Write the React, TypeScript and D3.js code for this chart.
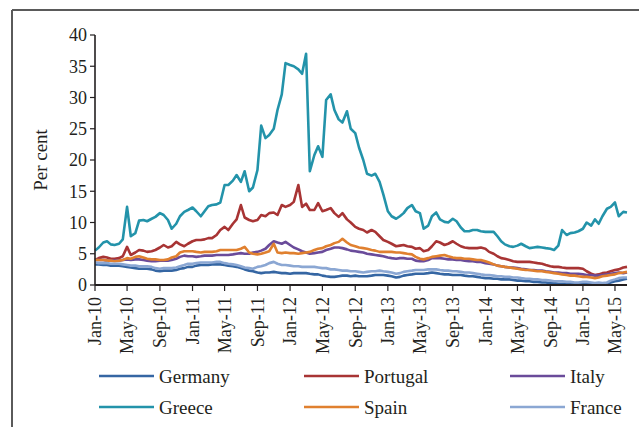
import React from 'react';
import * as d3 from 'd3';

// semi-monthly observations, 1st and 15th of each month, Jan 2010 - mid Jun 2015
const startDate = new Date(2010, 0, 1);
const endDate = new Date(2015, 5, 15);

const germany = [
  3.3, 3.3, 3.2, 3.2, 3.1, 3.1, 3.1, 3.0, 2.9, 2.8, 2.7, 2.6, 2.6, 2.6, 2.5, 2.3, 2.2, 2.3, 2.3, 2.3,
  2.4, 2.6, 2.7, 2.9, 2.9, 3.1, 3.2, 3.2, 3.2, 3.3, 3.3, 3.3, 3.2, 3.1, 3.0, 2.9, 2.7, 2.5, 2.3, 2.2,
  2.0, 1.9, 2.0, 2.0, 2.1, 2.0, 1.9, 1.9, 1.8, 1.9, 1.9, 1.9, 1.9, 1.8, 1.7, 1.7, 1.5, 1.4, 1.3, 1.3,
  1.4, 1.5, 1.5, 1.4, 1.5, 1.4, 1.4, 1.4, 1.5, 1.6, 1.6, 1.6, 1.5, 1.4, 1.2, 1.3, 1.5, 1.6, 1.7, 1.8,
  1.8, 1.8, 1.9, 2.0, 1.9, 1.8, 1.7, 1.7, 1.6, 1.6, 1.6, 1.5, 1.4, 1.4, 1.3, 1.2, 1.1, 1.1, 1.0, 1.0,
  0.9, 0.9, 0.9, 0.8, 0.7, 0.7, 0.6, 0.6, 0.5, 0.5, 0.4, 0.4, 0.3, 0.3, 0.2, 0.2, 0.2, 0.1, 0.1, 0.1,
  0.1, 0.2, 0.1, 0.1, 0.1, 0.1, 0.2, 0.4, 0.6, 0.7, 0.9, 1.0,
];

const portugal = [
  4.0, 4.3, 4.5, 4.4, 4.2, 4.2, 4.3, 4.6, 6.1, 4.8, 5.2, 5.6, 5.5, 5.3, 5.4, 5.6, 6.0, 6.4, 6.0, 6.2,
  6.9, 6.5, 6.2, 6.6, 7.0, 7.2, 7.2, 7.3, 7.5, 7.5, 8.0, 8.8, 9.3, 8.8, 9.8, 10.5, 12.8, 10.8, 10.4, 10.2,
  10.4, 11.2, 11.0, 11.5, 11.6, 11.2, 12.8, 12.5, 12.8, 13.3, 16.0, 12.5, 13.0, 12.0, 12.0, 13.1, 11.8, 12.0, 12.3, 11.5,
  10.9, 11.5, 10.5, 10.0, 9.3, 9.0, 8.8, 8.4, 8.8, 8.5, 7.8, 7.2, 6.9, 6.6, 6.2, 6.3, 6.4, 6.2, 6.1, 5.8,
  5.9, 5.4, 5.6, 6.2, 7.0, 6.8, 6.4, 6.6, 7.0, 6.6, 6.2, 6.0, 5.9, 5.9, 5.9, 6.0, 5.8, 5.3, 5.0, 4.6,
  4.3, 4.2, 4.0, 3.8, 3.7, 3.7, 3.7, 3.7, 3.6, 3.5, 3.4, 3.2, 3.0, 2.9, 2.9, 2.8, 2.7, 2.7, 2.7, 2.7,
  2.6, 2.2, 1.8, 1.6, 1.7, 1.9, 2.0, 2.2, 2.4, 2.5, 2.8, 2.9,
];

const italy = [
  4.0, 4.0, 4.0, 3.9, 3.9, 3.9, 3.9, 4.0, 4.1, 4.0, 4.1, 4.1, 4.0, 3.9, 3.8, 3.8, 3.9, 3.9, 3.9, 4.0,
  4.2, 4.5, 4.7, 4.6, 4.6, 4.5, 4.6, 4.7, 4.7, 4.7, 4.8, 4.8, 4.8, 4.8, 4.9, 5.0, 5.1, 5.0, 5.0, 5.2,
  5.3, 5.5, 5.8, 6.4, 7.0, 6.8, 6.6, 6.9, 6.4, 6.0, 5.7, 5.4, 5.2, 5.0, 5.1, 5.2, 5.3, 5.6, 5.8, 6.0,
  6.0, 5.9, 5.7, 5.5, 5.4, 5.3, 5.2, 5.0, 4.9, 4.8, 4.7, 4.6, 4.4, 4.3, 4.2, 4.3, 4.3, 4.2, 4.2, 3.9,
  3.8, 3.8, 4.0, 4.3, 4.3, 4.3, 4.2, 4.1, 4.1, 4.0, 4.0, 3.9, 3.8, 3.8, 3.7, 3.7, 3.5, 3.4, 3.3, 3.1,
  3.0, 2.9, 2.8, 2.8, 2.7, 2.6, 2.5, 2.4, 2.4, 2.3, 2.3, 2.2, 2.1, 2.0, 2.0, 1.9, 1.9, 1.8, 1.8, 1.8,
  1.7, 1.6, 1.6, 1.5, 1.5, 1.6, 1.7, 1.8, 1.9, 2.0, 1.9, 2.0,
];

const greece = [
  5.5, 6.0, 6.8, 7.0, 6.5, 6.4, 6.6, 7.3, 12.5, 7.8, 8.3, 10.3, 10.4, 10.2, 10.6, 10.9, 11.5, 11.2, 10.4, 9.0,
  9.8, 11.0, 11.7, 12.0, 12.4, 11.8, 11.0, 11.8, 12.6, 12.8, 12.9, 13.2, 16.0, 16.0, 16.7, 17.6, 16.5, 18.2, 15.0, 15.6,
  18.4, 25.5, 23.5, 24.0, 25.0, 28.0, 30.5, 35.5, 35.2, 35.0, 34.5, 33.8, 37.0, 18.2, 20.8, 22.2, 20.5, 29.6, 30.5, 28.0,
  26.5, 26.0, 27.8, 25.0, 24.3, 22.0, 20.0, 17.8, 17.5, 17.8, 16.5, 14.5, 11.8, 11.0, 10.6, 11.0, 11.5, 12.3, 12.8, 11.8,
  11.5, 9.0, 9.5, 11.0, 11.6, 10.5, 10.1, 10.0, 10.6, 10.2, 9.2, 8.6, 8.6, 8.8, 8.8, 8.6, 8.5, 8.5, 8.5, 7.8,
  7.0, 6.5, 6.2, 6.1, 6.3, 6.6, 6.2, 5.9, 6.0, 6.1, 6.0, 5.9, 5.8, 5.6, 6.3, 8.8, 8.0, 8.3, 8.4, 8.6,
  9.0, 10.0, 9.5, 10.5, 9.8, 11.0, 12.2, 12.5, 13.2, 11.0, 11.7, 11.6,
];

const spain = [
  4.0, 4.0, 4.0, 3.9, 3.9, 3.8, 3.9, 4.0, 4.3, 4.2, 4.5, 4.6, 4.4, 4.2, 4.1, 4.1, 4.0, 4.0, 4.1, 4.4,
  4.6, 5.2, 5.4, 5.4, 5.4, 5.3, 5.2, 5.3, 5.3, 5.3, 5.4, 5.6, 5.6, 5.6, 5.6, 5.6, 5.8, 6.1, 5.2, 5.0,
  4.9, 5.0, 5.2, 5.4, 6.6, 5.2, 5.1, 5.2, 5.1, 5.1, 5.0, 5.1, 5.2, 5.3, 5.6, 5.8, 5.9, 6.2, 6.4, 6.7,
  6.9, 7.4, 6.8, 6.4, 6.2, 6.0, 5.9, 5.8, 5.6, 5.5, 5.3, 5.3, 5.3, 5.3, 5.2, 5.2, 5.1, 5.0, 4.9, 4.5,
  4.2, 4.1, 4.3, 4.5, 4.6, 4.7, 4.8, 4.6, 4.4, 4.3, 4.3, 4.2, 4.2, 4.1, 4.0, 4.0, 3.8, 3.6, 3.3, 3.1,
  3.0, 2.9, 2.8, 2.7, 2.6, 2.5, 2.4, 2.4, 2.3, 2.2, 2.2, 2.1, 2.0, 1.9, 1.8, 1.7, 1.6, 1.5, 1.5, 1.4,
  1.3, 1.3, 1.2, 1.1, 1.2, 1.4, 1.5, 1.6, 1.7, 1.9, 2.0, 2.1,
];

const france = [
  3.6, 3.5, 3.5, 3.5, 3.4, 3.4, 3.4, 3.3, 3.2, 3.1, 3.1, 3.0, 3.0, 3.0, 2.9, 2.7, 2.6, 2.7, 2.7, 2.7,
  2.8, 3.0, 3.2, 3.4, 3.4, 3.5, 3.6, 3.6, 3.6, 3.6, 3.7, 3.7, 3.5, 3.4, 3.3, 3.2, 3.0, 2.8, 2.7, 2.6,
  2.9, 3.0, 3.2, 3.5, 3.7, 3.4, 3.2, 3.2, 3.1, 3.0, 3.0, 2.9, 2.9, 2.9, 2.9, 2.8, 2.7, 2.7, 2.5, 2.5,
  2.4, 2.3, 2.3, 2.2, 2.2, 2.1, 2.0, 2.1, 2.2, 2.2, 2.3, 2.2, 2.1, 2.0, 1.8, 1.9, 2.1, 2.2, 2.3, 2.4,
  2.4, 2.4, 2.5, 2.5, 2.5, 2.4, 2.3, 2.3, 2.2, 2.2, 2.1, 2.0, 2.0, 1.9, 1.8, 1.7, 1.6, 1.6, 1.5, 1.4,
  1.4, 1.3, 1.3, 1.2, 1.2, 1.1, 1.0, 1.0, 0.9, 0.9, 0.8, 0.8, 0.7, 0.6, 0.6, 0.6, 0.5, 0.5, 0.4, 0.4,
  0.5, 0.5, 0.4, 0.3, 0.4, 0.3, 0.4, 0.7, 0.9, 1.1, 1.2, 1.2,
];

const seriesNames = ['Germany', 'Portugal', 'Italy', 'Greece', 'Spain', 'France'];
const seriesValues = [germany, portugal, italy, greece, spain, france];
const seriesColors = ['#3566a3', '#a83434', '#6a4b9a', '#2393aa', '#e0802f', '#8ba7d3'];

const yTicks = [0, 5, 10, 15, 20, 25, 30, 35, 40];

const width = 639;
const height = 427;
const font = '"Liberation Serif", "Times New Roman", serif';
const ink = '#231f20';

// dates on the 1st and 15th of each month
const dates: Date[] = [];
d3.timeMonth.range(startDate, d3.timeMonth.offset(endDate, 1)).forEach(m => {
  dates.push(m);
  dates.push(new Date(m.getFullYear(), m.getMonth(), 15));
});

const App: React.FC = () => {
  const x = d3.scaleTime().domain([startDate, endDate]).range([95, 627]);
  const y = d3.scaleLinear().domain([0, 40]).range([285, 35]);
  const xTicks = x.ticks(d3.timeMonth.every(4) as any);
  const fmt = d3.timeFormat('%b-%y');

  const line = d3.line<number>()
    .x((_, i) => x(dates[i]))
    .y(d => y(d))
    .curve(d3.curveLinear);

  // legend layout: 3 columns x 2 rows
  const legendCols = [99, 304, 510];
  const legendRows = [376, 407];

  return (
    <svg width={width} height={height} style={{ position: 'absolute', left: 0, top: 0, background: '#fff' }}>
      {/* frame */}
      <line x1={12} x2={width} y1={10} y2={10} stroke="#5a5a5a" strokeWidth={2} />
      <line x1={12} x2={12} y1={10} y2={height} stroke="#5a5a5a" strokeWidth={2} />

      {/* series */}
      {seriesValues.map((vals, k) => (
        <path key={seriesNames[k]} d={line(vals) || ''} fill="none" stroke={seriesColors[k]}
          strokeWidth={2.6} strokeLinejoin="round" />
      ))}

      {/* y axis */}
      <line x1={95} x2={95} y1={y(40)} y2={y(0)} stroke={ink} strokeWidth={1.6} />
      {yTicks.map(t => (
        <g key={t}>
          <line x1={90} x2={95} y1={y(t)} y2={y(t)} stroke={ink} strokeWidth={1.2} />
          <text x={87} y={y(t)} dy="0.35em" textAnchor="end" fontFamily={font} fontSize={18} fill={ink}>{t}</text>
        </g>
      ))}
      <text transform={`translate(40, 160) rotate(-90)`} textAnchor="middle" dy="0.35em"
        fontFamily={font} fontSize={19} fill={ink}>Per cent</text>

      {/* x axis */}
      <line x1={95} x2={627} y1={285} y2={285} stroke={ink} strokeWidth={2} />
      {xTicks.map(t => (
        <g key={t.getTime()}>
          <line x1={x(t)} x2={x(t)} y1={285} y2={291} stroke={ink} strokeWidth={1.2} />
          <text transform={`translate(${x(t)}, 297) rotate(-90)`} textAnchor="end" dy="0.35em"
            fontFamily={font} fontSize={18} fill={ink}>{fmt(t)}</text>
        </g>
      ))}

      {/* legend */}
      {seriesNames.map((name, k) => {
        const lx = legendCols[k % 3];
        const ly = legendRows[Math.floor(k / 3)];
        return (
          <g key={name}>
            <line x1={lx} x2={lx + 55} y1={ly} y2={ly} stroke={seriesColors[k]} strokeWidth={2.5} />
            <text x={lx + 60} y={ly} dy="0.35em" fontFamily={font} fontSize={19} fill={ink}>{name}</text>
          </g>
        );
      })}
    </svg>
  );
};

export default App;
